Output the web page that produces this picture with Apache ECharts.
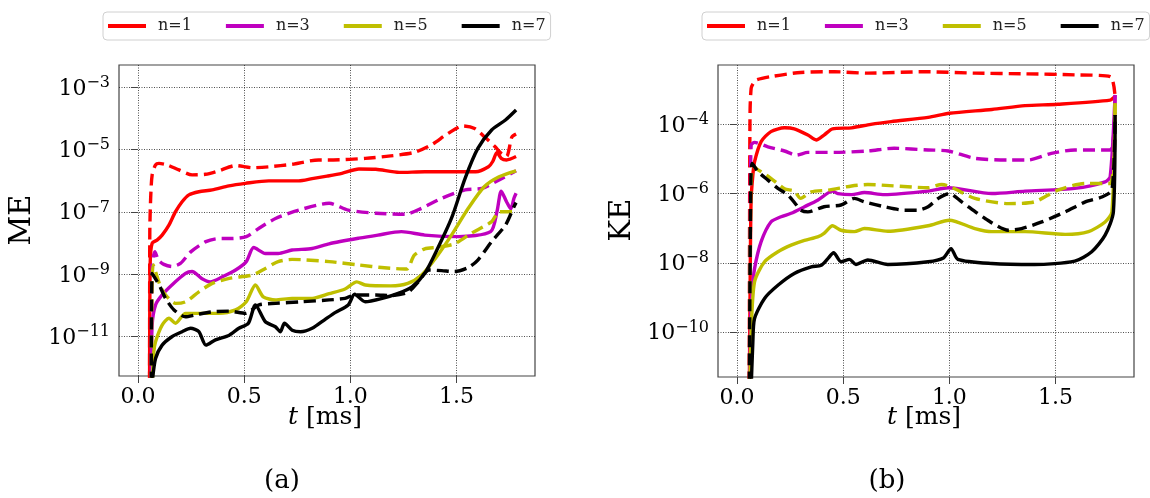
<!DOCTYPE html>
<html><head><meta charset="utf-8">
<script src="https://cdn.jsdelivr.net/npm/echarts@6/dist/echarts.min.js"></script>
<style>html,body{margin:0;padding:0;background:#fff}#c{width:1150px;height:498px}</style>
</head><body><div id="c"></div>
<script>
// ---- data (t in ms, values are log10 of the energy) ----
const legendNames = ['n=1', 'n=3', 'n=5', 'n=7'];
const xTickValues = [0, 0.5, 1.0, 1.5];
const meTickExponents = [-11, -9, -7, -5, -3];
const keTickExponents = [-10, -8, -6, -4];

// (a) ME
const meN1Solid = [[0.055,-12.5],[0.058,-8.6],[0.067,-8.0],[0.09,-7.9],[0.114,-7.74],[0.146,-7.42],[0.177,-6.99],[0.208,-6.67],[0.24,-6.45],[0.287,-6.35],[0.35,-6.29],[0.428,-6.16],[0.506,-6.08],[0.616,-6.0],[0.757,-6.0],[0.82,-5.93],[0.89,-5.85],[0.96,-5.76],[1.04,-5.62],[1.12,-5.63],[1.23,-5.73],[1.35,-5.71],[1.59,-5.71],[1.65,-5.55],[1.67,-5.38],[1.69,-5.09],[1.71,-5.28],[1.735,-5.33],[1.78,-5.22]];
const meN1Dashed = [[0.055,-12.5],[0.056,-7.63],[0.06,-6.56],[0.067,-5.81],[0.083,-5.49],[0.099,-5.44],[0.138,-5.49],[0.193,-5.65],[0.255,-5.81],[0.318,-5.79],[0.38,-5.68],[0.46,-5.51],[0.54,-5.58],[0.616,-5.55],[0.726,-5.47],[0.85,-5.33],[0.92,-5.33],[1.07,-5.28],[1.19,-5.2],[1.30,-5.09],[1.38,-4.85],[1.46,-4.48],[1.53,-4.24],[1.585,-4.32],[1.63,-4.58],[1.68,-4.9],[1.71,-5.12],[1.735,-5.22],[1.76,-4.6],[1.78,-4.5]];
const meN3Solid = [[0.063,-12.5],[0.067,-10.63],[0.083,-9.98],[0.114,-9.66],[0.16,-9.34],[0.224,-8.97],[0.255,-8.91],[0.30,-9.13],[0.34,-9.24],[0.40,-9.07],[0.46,-8.86],[0.51,-8.59],[0.545,-8.14],[0.60,-8.33],[0.66,-8.33],[0.726,-8.22],[0.82,-8.17],[0.90,-8.02],[1.04,-7.84],[1.13,-7.74],[1.24,-7.63],[1.35,-7.74],[1.51,-7.79],[1.66,-7.63],[1.69,-6.99],[1.71,-6.33],[1.735,-6.67],[1.755,-6.9],[1.77,-6.56],[1.78,-6.4]];
const meN3Dashed = [[0.063,-12.5],[0.067,-8.7],[0.08,-8.27],[0.096,-8.54],[0.122,-8.68],[0.16,-8.75],[0.20,-8.65],[0.25,-8.27],[0.32,-7.95],[0.38,-7.85],[0.44,-7.85],[0.51,-7.79],[0.57,-7.52],[0.65,-7.2],[0.757,-6.94],[0.90,-6.72],[0.99,-6.94],[1.12,-7.04],[1.26,-7.07],[1.335,-6.88],[1.43,-6.56],[1.54,-6.29],[1.62,-6.24],[1.70,-5.97],[1.78,-5.68]];
const meN5Solid = [[0.067,-12.5],[0.075,-11.48],[0.083,-11.16],[0.114,-10.63],[0.146,-10.41],[0.177,-10.57],[0.224,-10.25],[0.287,-10.25],[0.38,-10.25],[0.46,-10.14],[0.51,-9.88],[0.553,-9.34],[0.59,-9.72],[0.647,-9.82],[0.726,-9.77],[0.82,-9.77],[0.90,-9.62],[0.975,-9.47],[1.03,-9.24],[1.07,-9.34],[1.19,-9.37],[1.27,-9.29],[1.335,-9.02],[1.40,-8.49],[1.476,-7.74],[1.555,-6.88],[1.63,-6.19],[1.70,-5.87],[1.78,-5.68]];
const meN5Dashed = [[0.063,-12.5],[0.067,-9.13],[0.072,-8.7],[0.083,-8.91],[0.107,-9.4],[0.13,-9.66],[0.177,-9.93],[0.224,-9.88],[0.287,-9.56],[0.35,-9.29],[0.43,-9.13],[0.54,-9.02],[0.60,-8.81],[0.66,-8.59],[0.726,-8.52],[0.90,-8.59],[1.04,-8.7],[1.16,-8.79],[1.265,-8.83],[1.30,-8.39],[1.35,-8.18],[1.41,-8.13],[1.49,-8.02],[1.57,-7.68],[1.665,-7.31],[1.70,-6.99],[1.745,-6.99],[1.78,-7.0]];
const meN7Solid = [[0.067,-12.5],[0.083,-11.7],[0.114,-11.27],[0.16,-11.0],[0.208,-10.84],[0.248,-10.73],[0.287,-10.84],[0.32,-11.27],[0.365,-11.1],[0.43,-10.95],[0.475,-10.73],[0.52,-10.57],[0.553,-9.98],[0.60,-10.52],[0.647,-10.68],[0.67,-10.84],[0.69,-10.57],[0.726,-10.79],[0.765,-10.84],[0.82,-10.73],[0.88,-10.45],[0.93,-10.22],[0.99,-9.98],[1.02,-9.64],[1.07,-9.88],[1.15,-9.77],[1.225,-9.61],[1.29,-9.4],[1.35,-8.97],[1.41,-8.18],[1.476,-7.2],[1.54,-5.92],[1.60,-4.96],[1.665,-4.37],[1.73,-4.05],[1.78,-3.73]];
const meN7Dashed = [[0.063,-12.5],[0.067,-8.97],[0.10,-9.34],[0.13,-9.77],[0.17,-10.14],[0.224,-10.36],[0.27,-10.3],[0.35,-10.2],[0.43,-10.18],[0.506,-10.25],[0.57,-9.98],[0.647,-9.93],[0.77,-9.88],[0.90,-9.82],[0.975,-9.77],[1.02,-9.66],[1.12,-9.66],[1.19,-9.68],[1.27,-9.58],[1.32,-9.24],[1.37,-8.86],[1.43,-8.88],[1.49,-8.91],[1.555,-8.78],[1.60,-8.54],[1.665,-7.95],[1.73,-7.42],[1.77,-6.83],[1.78,-6.7]];

// (b) KE
const keN1Solid = [[0.058,-12],[0.063,-8.07],[0.067,-6.14],[0.075,-5.47],[0.083,-5.08],[0.114,-4.5],[0.16,-4.21],[0.224,-4.1],[0.27,-4.13],[0.334,-4.31],[0.373,-4.45],[0.41,-4.31],[0.45,-4.13],[0.54,-4.1],[0.63,-4.0],[0.726,-3.92],[0.90,-3.8],[1.0,-3.68],[1.2,-3.57],[1.356,-3.46],[1.51,-3.42],[1.757,-3.3],[1.78,-3.2]];
const keN1Dashed = [[0.058,-12],[0.06,-6],[0.062,-3.6],[0.067,-2.96],[0.075,-2.84],[0.09,-2.72],[0.16,-2.62],[0.30,-2.5],[0.46,-2.48],[0.616,-2.52],[0.885,-2.48],[1.12,-2.52],[1.356,-2.54],[1.59,-2.57],[1.757,-2.62],[1.78,-3.2]];
const keN3Solid = [[0.06,-12],[0.065,-9.6],[0.072,-8.8],[0.083,-8.17],[0.114,-7.39],[0.16,-6.82],[0.208,-6.67],[0.255,-6.57],[0.318,-6.38],[0.38,-6.19],[0.45,-5.93],[0.475,-6.0],[0.54,-6.03],[0.60,-5.97],[0.694,-6.03],[0.90,-5.93],[0.995,-5.83],[1.2,-6.0],[1.356,-5.93],[1.59,-5.85],[1.733,-5.66],[1.757,-5.51],[1.78,-3.15]];
const keN3Dashed = [[0.06,-12],[0.063,-6.5],[0.067,-4.6],[0.083,-4.52],[0.146,-4.65],[0.224,-4.77],[0.28,-4.89],[0.334,-4.81],[0.46,-4.81],[0.616,-4.77],[0.74,-4.69],[0.90,-4.74],[0.995,-4.77],[1.12,-4.98],[1.278,-5.03],[1.37,-5.03],[1.48,-4.84],[1.59,-4.74],[1.757,-4.74],[1.78,-3.15]];
const keN5Solid = [[0.06,-12],[0.067,-10.0],[0.083,-8.55],[0.13,-7.97],[0.193,-7.68],[0.255,-7.49],[0.318,-7.35],[0.38,-7.25],[0.41,-7.15],[0.45,-6.93],[0.49,-7.06],[0.553,-7.1],[0.60,-7.01],[0.71,-7.09],[0.90,-6.93],[1.0,-6.77],[1.12,-7.01],[1.2,-7.1],[1.356,-7.1],[1.545,-7.18],[1.655,-7.1],[1.733,-6.82],[1.765,-6.53],[1.78,-3.39]];
const keN5Dashed = [[0.06,-12],[0.065,-6.0],[0.075,-5.2],[0.09,-5.27],[0.16,-5.56],[0.224,-5.86],[0.27,-5.93],[0.30,-6.14],[0.35,-5.95],[0.43,-5.9],[0.54,-5.78],[0.616,-5.74],[0.90,-5.83],[0.964,-5.74],[1.12,-6.14],[1.278,-6.29],[1.40,-6.24],[1.51,-5.9],[1.64,-5.71],[1.757,-5.71],[1.78,-3.39]];
const keN7Solid = [[0.065,-12],[0.075,-10.3],[0.083,-9.61],[0.13,-9.03],[0.193,-8.65],[0.27,-8.31],[0.35,-8.12],[0.397,-8.07],[0.428,-7.88],[0.455,-7.71],[0.49,-7.97],[0.53,-7.9],[0.56,-8.05],[0.616,-7.92],[0.71,-8.05],[0.90,-7.97],[0.972,-7.86],[1.008,-7.59],[1.04,-7.9],[1.2,-8.02],[1.4,-8.05],[1.59,-7.95],[1.67,-7.68],[1.733,-7.2],[1.772,-6.53],[1.78,-3.73]];
const keN7Dashed = [[0.058,-12],[0.065,-6.0],[0.072,-5.13],[0.10,-5.37],[0.146,-5.61],[0.193,-5.85],[0.24,-6.04],[0.28,-6.33],[0.30,-6.48],[0.334,-6.53],[0.41,-6.38],[0.49,-6.33],[0.553,-6.14],[0.60,-6.24],[0.694,-6.38],[0.79,-6.48],[0.85,-6.48],[0.90,-6.38],[0.948,-6.14],[1.0,-6.0],[1.058,-6.24],[1.168,-6.72],[1.278,-7.06],[1.34,-7.01],[1.435,-6.82],[1.545,-6.53],[1.64,-6.24],[1.717,-6.1],[1.765,-5.9],[1.78,-3.73]];

// ---- styling / layout ----
const colors = {'n=1':'#ff0000','n=3':'#bf00bf','n=5':'#bfbf00','n=7':'#000000'};
const FONT = 'DejaVu Serif';
const panels = [
  {solid:[meN1Solid,meN3Solid,meN5Solid,meN7Solid], dashed:[meN1Dashed,meN3Dashed,meN5Dashed,meN7Dashed]},
  {solid:[keN1Solid,keN3Solid,keN5Solid,keN7Solid], dashed:[keN1Dashed,keN3Dashed,keN5Dashed,keN7Dashed]}
];

function xAxisCfg(gi){
  return {gridIndex:gi, type:'value', min:-0.089, max:1.869,
    axisLine:{show:false},
    axisTick:{show:true, customValues:xTickValues, length:7, lineStyle:{color:'#444', width:1}},
    axisLabel:{customValues:xTickValues, formatter:v=>Number(v).toFixed(1), margin:10, fontFamily:FONT, fontSize:22, color:'#000'},
    splitLine:{show:true, lineStyle:{type:[1,1.5], color:'#222', width:0.8}}};
}
function yAxisCfg(gi, ticks, mn, mx){
  return {gridIndex:gi, type:'value', min:mn, max:mx,
    axisLine:{show:false},
    axisTick:{show:true, customValues:ticks, length:7, lineStyle:{color:'#444', width:1}},
    axisLabel:{customValues:ticks, margin:9, align:'right',
      formatter:v=>'{b|10}{s|\u2212'+Math.abs(Math.round(v))+'}',
      rich:{b:{fontFamily:FONT, fontSize:22, lineHeight:25, color:'#000', verticalAlign:'bottom'},
            s:{fontFamily:FONT, fontSize:16, lineHeight:15, color:'#000', verticalAlign:'top'}}},
    splitLine:{show:true, lineStyle:{type:[1,1.5], color:'#222', width:0.8}}};
}

const series = [];
panels.forEach((p, gi) => {
  legendNames.forEach((nm, k) => {
    [[p.solid[k], 'solid'], [p.dashed[k], [12,6]]].forEach(([d, tp]) => {
      series.push({type:'line', name:nm, xAxisIndex:gi, yAxisIndex:gi, data:d,
        showSymbol:false, symbol:'none', smooth:0.25, clip:true,
        itemStyle:{color:colors[nm]},
        lineStyle:{color:colors[nm], width:3.4, type:tp, cap:'butt', join:'round'}});
    });
  });
});

function legendCfg(left){
  return {data:legendNames, left:left, top:12, icon:'rect', itemWidth:38, itemHeight:4, itemGap:34,
    padding:[6,5,6,5], borderColor:'#d0d0d0', borderWidth:1, borderRadius:4, backgroundColor:'#fff',
    selectedMode:false,
    textStyle:{fontFamily:FONT, fontSize:16, color:'#222', padding:[0,0,0,7]}};
}

const chart = echarts.init(document.getElementById('c'), null, {renderer:'canvas'});
chart.setOption({
  animation:false,
  backgroundColor:'#fff',
  legend:[legendCfg(103), legendCfg(702)],
  grid:[
    {left:119, top:65, width:416, height:311, show:true, borderColor:'#444', borderWidth:1.2, containLabel:false},
    {left:718, top:65, width:416, height:312, show:true, borderColor:'#444', borderWidth:1.2, containLabel:false}
  ],
  xAxis:[xAxisCfg(0), xAxisCfg(1)],
  yAxis:[yAxisCfg(0, meTickExponents, -12.26, -2.285), yAxisCfg(1, keTickExponents, -11.30, -2.285)],
  series:series,
  graphic:[
    {type:'text', x:22, y:220, rotation:Math.PI/2, style:{text:'ME', font:'29px "DejaVu Serif"', fill:'#000', align:'center', verticalAlign:'middle'}},
    {type:'text', x:622, y:220, rotation:Math.PI/2, style:{text:'KE', font:'29px "DejaVu Serif"', fill:'#000', align:'center', verticalAlign:'middle'}},
    {type:'text', x:325, y:417, style:{text:'{i|t} [ms]', font:'25px "DejaVu Serif"', fill:'#000', align:'center', verticalAlign:'middle', rich:{i:{fontFamily:FONT, fontStyle:'italic', fontSize:25, fill:'#000'}}}},
    {type:'text', x:924, y:417, style:{text:'{i|t} [ms]', font:'25px "DejaVu Serif"', fill:'#000', align:'center', verticalAlign:'middle', rich:{i:{fontFamily:FONT, fontStyle:'italic', fontSize:25, fill:'#000'}}}},
    {type:'text', x:282, y:481, style:{text:'(a)', font:'26px "DejaVu Serif"', fill:'#000', align:'center', verticalAlign:'middle'}},
    {type:'text', x:887, y:481, style:{text:'(b)', font:'26px "DejaVu Serif"', fill:'#000', align:'center', verticalAlign:'middle'}}
  ]
});
</script>
</body></html>
